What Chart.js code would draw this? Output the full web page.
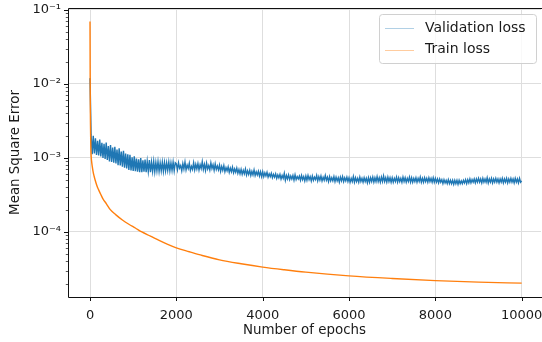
<!DOCTYPE html>
<html><head><meta charset="utf-8">
<style>html,body{margin:0;padding:0;background:#fff;overflow:hidden}canvas{display:block}</style>
<script src="https://cdn.jsdelivr.net/npm/chart.js@4.4.1/dist/chart.umd.min.js"></script>
</head><body>
<canvas id="c" width="542" height="342"></canvas>
<script>
// ---- data ----
const xTickValues = [0, 2000, 4000, 6000, 8000, 10000];
const xTickLabels = ['0', '2000', '4000', '6000', '8000', '10000'];
const yTickValues = [1e-4, 1e-3, 1e-2, 1e-1];
const yTickLabels = ['10⁻⁴', '10⁻³', '10⁻²', '10⁻¹'];
const seriesLabels = ['Validation loss', 'Train loss'];

const trainEpochs = [0, 1, 2, 3, 4, 6, 8, 11, 15, 20, 25, 35, 50, 70, 90, 120, 160, 200, 250, 300, 380, 470, 600, 750, 900, 1050, 1200, 1400, 1600, 1800, 2000, 2300, 2600, 3000, 3500, 4000, 4500, 5000, 6000, 7000, 8000, 9000, 9999];
const trainLoss = [7.0e-2, 4.5e-2, 2.8e-2, 1.8e-2, 1.2e-2, 6.5e-3, 4.2e-3, 2.8e-3, 1.9e-3, 1.35e-3, 1.1e-3, 9.2e-4, 7.8e-4, 6.6e-4, 5.8e-4, 5.0e-4, 4.2e-4, 3.7e-4, 3.2e-4, 2.8e-4, 2.4e-4, 2.0e-4, 1.7e-4, 1.45e-4, 1.27e-4, 1.13e-4, 1.0e-4, 8.8e-5, 7.7e-5, 6.8e-5, 6.1e-5, 5.4e-5, 4.8e-5, 4.2e-5, 3.72e-5, 3.35e-5, 3.08e-5, 2.86e-5, 2.55e-5, 2.35e-5, 2.2e-5, 2.1e-5, 2.03e-5];

// validation loss, one reading every 25 epochs (epochs 0 .. 10000)
const valStep = 25;
const valLossEarly = [
  1.2e-2, 2.05e-3, 1.12e-3, 2.0e-3, 1.15e-3, 1.85e-3, 1.1e-3, 1.7e-3, 1.08e-3, 1.78e-3,
  1.05e-3, 1.6e-3, 1.0e-3, 1.55e-3, 9.7e-4, 1.62e-3, 9.4e-4, 1.45e-3, 9.0e-4, 1.5e-3,
  8.8e-4, 1.38e-3, 8.6e-4, 1.42e-3, 8.4e-4, 1.3e-3, 8.0e-4, 1.35e-3, 7.9e-4, 1.22e-3,
  7.6e-4, 1.25e-3, 7.4e-4, 1.15e-3, 7.2e-4, 1.12e-3, 6.9e-4, 1.1e-3, 6.8e-4, 1.02e-3,
  6.7e-4, 1.05e-3, 6.6e-4, 9.8e-4, 6.5e-4, 9.6e-4, 6.4e-4, 1.0e-3, 6.4e-4, 9.3e-4,
  6.5e-4, 9.5e-4, 6.4e-4, 9.0e-4, 6.6e-4, 9.4e-4, 6.4e-4, 8.8e-4, 6.6e-4, 9.0e-4,
  6.5e-4, 8.7e-4, 6.7e-4, 8.9e-4, 6.6e-4, 8.6e-4, 6.7e-4, 8.8e-4, 6.6e-4, 8.7e-4,
  6.7e-4, 8.6e-4, 6.8e-4, 8.8e-4, 6.7e-4, 8.6e-4, 6.8e-4, 8.8e-4, 6.7e-4, 8.6e-4
];
const valLossLate = [
  8.3e-4, 6.9e-4, 8.6e-4, 7.3e-4, 7.9e-4, 6.7e-4, 8.4e-4, 7.1e-4, 8.8e-4, 6.9e-4, 8.0e-4, 7.2e-4, 8.5e-4, 6.8e-4, 7.7e-4, 7.0e-4, 8.6e-4, 6.9e-4, 8.2e-4, 7.1e-4,
  8.4e-4, 6.9e-4, 8.1e-4, 7.2e-4, 8.9e-4, 7.0e-4, 8.2e-4, 6.8e-4, 8.5e-4, 7.1e-4, 7.9e-4, 6.9e-4, 8.6e-4, 7.2e-4, 8.1e-4, 6.8e-4, 8.3e-4, 7.0e-4, 7.8e-4, 6.9e-4,
  8.0e-4, 6.6e-4, 7.7e-4, 6.8e-4, 7.9e-4, 6.5e-4, 7.4e-4, 6.7e-4, 7.6e-4, 6.4e-4, 7.3e-4, 6.5e-4, 7.5e-4, 6.3e-4, 7.1e-4, 6.4e-4, 7.3e-4, 6.2e-4, 7.0e-4, 6.1e-4,
  7.0e-4, 6.0e-4, 6.8e-4, 6.1e-4, 7.1e-4, 5.9e-4, 6.7e-4, 6.0e-4, 6.8e-4, 5.8e-4, 6.6e-4, 5.9e-4, 6.9e-4, 5.8e-4, 6.5e-4, 5.9e-4, 6.6e-4, 5.7e-4, 6.5e-4, 5.6e-4,
  6.5e-4, 5.6e-4, 6.3e-4, 5.7e-4, 6.4e-4, 5.5e-4, 6.1e-4, 5.6e-4, 6.2e-4, 5.4e-4, 6.0e-4, 5.5e-4, 6.1e-4, 5.3e-4, 5.9e-4, 5.4e-4, 6.0e-4, 5.2e-4, 5.8e-4, 5.3e-4,
  6.2e-4, 5.0e-4, 5.8e-4, 5.2e-4, 5.9e-4, 5.1e-4, 5.7e-4, 5.2e-4, 5.8e-4, 5.0e-4, 5.9e-4, 5.1e-4, 5.6e-4, 5.2e-4, 5.7e-4, 5.0e-4, 5.8e-4, 5.1e-4, 5.6e-4, 4.9e-4,
  5.7e-4, 5.0e-4, 5.8e-4, 5.1e-4, 5.6e-4, 4.9e-4, 5.7e-4, 5.0e-4, 5.5e-4, 5.1e-4, 5.8e-4, 4.9e-4, 5.6e-4, 5.0e-4, 5.7e-4, 4.9e-4, 5.5e-4, 5.0e-4, 5.8e-4, 5.0e-4,
  5.5e-4, 4.8e-4, 5.6e-4, 4.9e-4, 5.4e-4, 4.9e-4, 5.6e-4, 4.8e-4, 5.5e-4, 4.9e-4, 5.4e-4, 4.7e-4, 5.5e-4, 4.9e-4, 5.6e-4, 4.8e-4, 5.4e-4, 4.9e-4, 5.5e-4, 4.8e-4,
  5.4e-4, 4.7e-4, 5.3e-4, 4.8e-4, 5.6e-4, 4.7e-4, 5.4e-4, 4.8e-4, 5.3e-4, 4.7e-4, 5.5e-4, 4.8e-4, 5.3e-4, 4.7e-4, 5.4e-4, 4.8e-4, 5.3e-4, 4.6e-4, 5.4e-4, 4.7e-4,
  5.4e-4, 4.8e-4, 5.5e-4, 4.7e-4, 5.4e-4, 4.8e-4, 5.6e-4, 4.8e-4, 5.4e-4, 4.7e-4, 5.5e-4, 4.8e-4, 5.7e-4, 4.8e-4, 5.4e-4, 4.7e-4, 5.5e-4, 4.8e-4, 5.4e-4, 4.7e-4,
  5.4e-4, 4.7e-4, 5.3e-4, 4.8e-4, 5.5e-4, 4.7e-4, 5.4e-4, 4.8e-4, 5.3e-4, 4.7e-4, 5.5e-4, 4.8e-4, 5.4e-4, 4.7e-4, 5.3e-4, 4.8e-4, 5.5e-4, 4.7e-4, 5.4e-4, 4.7e-4,
  5.3e-4, 4.8e-4, 5.4e-4, 4.7e-4, 5.3e-4, 4.8e-4, 5.5e-4, 4.7e-4, 5.3e-4, 4.7e-4, 5.4e-4, 4.8e-4, 5.3e-4, 4.7e-4, 5.4e-4, 4.8e-4, 5.3e-4, 4.7e-4, 5.4e-4, 4.7e-4,
  5.3e-4, 4.7e-4, 5.2e-4, 4.6e-4, 5.2e-4, 4.7e-4, 5.1e-4, 4.5e-4, 5.1e-4, 4.6e-4, 5.0e-4, 4.5e-4, 5.1e-4, 4.5e-4, 5.0e-4, 4.5e-4, 5.0e-4, 4.4e-4, 5.0e-4, 4.5e-4,
  5.0e-4, 4.4e-4, 5.0e-4, 4.5e-4, 4.9e-4, 4.5e-4, 5.0e-4, 4.6e-4, 5.1e-4, 4.5e-4, 5.1e-4, 4.6e-4, 5.2e-4, 4.6e-4, 5.1e-4, 4.7e-4, 5.2e-4, 4.6e-4, 5.2e-4, 4.7e-4,
  5.3e-4, 4.7e-4, 5.2e-4, 4.6e-4, 5.3e-4, 4.7e-4, 5.2e-4, 4.7e-4, 5.4e-4, 4.6e-4, 5.2e-4, 4.7e-4, 5.3e-4, 4.6e-4, 5.2e-4, 4.7e-4, 5.3e-4, 4.7e-4, 5.2e-4, 4.6e-4,
  5.2e-4, 4.7e-4, 5.3e-4, 4.6e-4, 5.2e-4, 4.7e-4, 5.3e-4, 4.6e-4, 5.2e-4, 4.7e-4, 5.3e-4, 4.7e-4, 5.2e-4, 4.6e-4, 5.3e-4, 4.7e-4, 5.2e-4, 4.6e-4, 5.3e-4, 4.7e-4,
  4.9e-4
];
const lastEpoch = 9999;

// ---- build points ----
const valLoss = valLossEarly.concat(valLossLate);
const valPoints = valLoss.map((v, i) => ({x: Math.min(i * valStep, lastEpoch), y: v}));
const trainPoints = trainLoss.map((v, i) => ({x: trainEpochs[i], y: v}));

const FONT = 'DejaVu Sans';
const TXT = '#1a1a1a';

const framePlugin = {
  id: 'frame',
  afterDraw(chart) {
    const {ctx, chartArea: a, scales} = chart;
    ctx.save();
    ctx.strokeStyle = '#111';
    ctx.lineWidth = 1;
    ctx.beginPath();
    xTickValues.forEach(v => {
      const px = Math.round(scales.x.getPixelForValue(v)) + 0.5;
      ctx.moveTo(px, a.bottom); ctx.lineTo(px, a.bottom + 4);
    });
    yTickValues.forEach(v => {
      const py = Math.round(scales.y.getPixelForValue(v)) + 0.5;
      ctx.moveTo(a.left, py); ctx.lineTo(a.left - 4, py);
    });
    ctx.stroke();
    ctx.lineWidth = 0.7;
    ctx.beginPath();
    for (let e = -5; e <= -1; e++) {
      for (let k = 2; k <= 9; k++) {
        const v = k * Math.pow(10, e);
        if (v < scales.y.min || v > scales.y.max) continue;
        const py = Math.round(scales.y.getPixelForValue(v)) + 0.5;
        ctx.moveTo(a.left, py); ctx.lineTo(a.left - 2.2, py);
      }
    }
    ctx.stroke();
    // spines (right spine lies just outside the picture)
    ctx.lineWidth = 1;
    ctx.strokeStyle = '#111';
    const L = Math.round(a.left) + 0.5, T = Math.round(a.top) + 0.5, B = Math.round(a.bottom) + 0.5;
    ctx.beginPath();
    ctx.moveTo(542, T); ctx.lineTo(L, T); ctx.lineTo(L, B); ctx.lineTo(542, B);
    ctx.stroke();
    // legend
    const bx = 379.5, by = 14.5, bw = 157, bh = 49;
    ctx.fillStyle = 'rgba(255,255,255,0.8)';
    ctx.strokeStyle = '#d0d0d0';
    ctx.beginPath();
    ctx.roundRect(bx, by, bw, bh, 3);
    ctx.fill(); ctx.stroke();
    const items = [
      {label: seriesLabels[0], color: 'rgba(31,119,180,0.35)', y: 28},
      {label: seriesLabels[1], color: 'rgba(255,127,14,0.4)', y: 49.5}
    ];
    items.forEach(it => {
      ctx.strokeStyle = it.color;
      ctx.lineWidth = 1;
      ctx.beginPath();
      ctx.moveTo(385, Math.round(it.y) + 0.5); ctx.lineTo(414, Math.round(it.y) + 0.5);
      ctx.stroke();
      ctx.fillStyle = TXT;
      ctx.font = '14px "' + FONT + '"';
      ctx.textBaseline = 'middle';
      ctx.textAlign = 'left';
      ctx.fillText(it.label, 425, it.y);
    });
    ctx.restore();
  }
};

new Chart(document.getElementById('c'), {
  type: 'line',
  data: {
    datasets: [
      {label: seriesLabels[0], data: valPoints, borderColor: '#1f77b4', borderWidth: 1.4, pointRadius: 0, tension: 0, order: 2},
      {label: seriesLabels[1], data: trainPoints, borderColor: '#ff7f0e', borderWidth: 1.4, pointRadius: 0, cubicInterpolationMode: 'monotone', order: 1}
    ]
  },
  options: {
    responsive: false,
    animation: false,
    devicePixelRatio: 1,
    parsing: false,
    layout: {padding: {left: 0, right: 1, top: 8, bottom: 0}},
    plugins: {legend: {display: false}, tooltip: {enabled: false}},
    scales: {
      x: {
        type: 'linear', min: -510, max: 10447,
        afterBuildTicks: s => { s.ticks = xTickValues.map(v => ({value: v})); },
        afterFit: s => { s.height = 45; s.paddingLeft = 0; s.paddingRight = 0; },
        ticks: {autoSkip: false, maxRotation: 0, padding: 11, color: TXT, font: {family: FONT, size: 13},
          callback: (v, i) => xTickLabels[i]},
        grid: {color: '#dedede', lineWidth: 1, drawTicks: false},
        border: {display: false},
        title: {display: true, text: 'Number of epochs', color: TXT, font: {family: FONT, size: 13.4}, padding: {top: 0, bottom: 3}}
      },
      y: {
        type: 'logarithmic', min: 1.32e-5, max: 0.1064,
        afterBuildTicks: s => { s.ticks = yTickValues.map(v => ({value: v, major: true})); },
        afterFit: s => { s.width = 68; s.paddingTop = 0; s.paddingBottom = 0; },
        ticks: {autoSkip: false, padding: 7, color: TXT, font: {family: FONT, size: 13},
          callback: (v, i) => yTickLabels[i]},
        grid: {color: '#dedede', lineWidth: 1, drawTicks: false},
        border: {display: false},
        title: {display: true, text: 'Mean Square Error', color: TXT, font: {family: FONT, size: 13.4}, padding: {top: 7, bottom: 0}}
      }
    }
  },
  plugins: [framePlugin]
});
</script>
</body></html>
